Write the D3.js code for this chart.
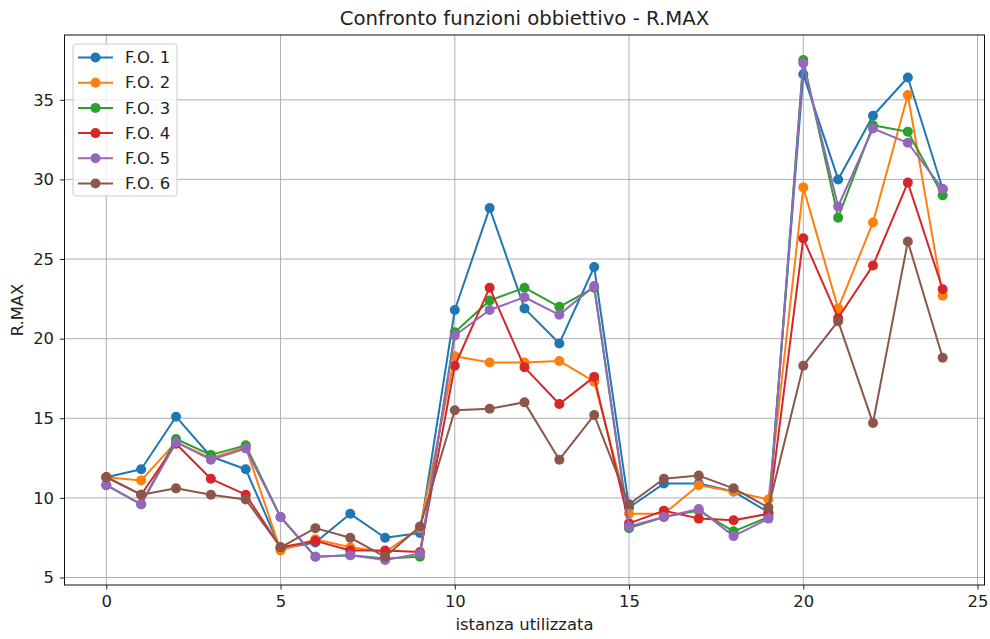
<!DOCTYPE html>
<html>
<head>
<meta charset="utf-8">
<script src="https://cdn.jsdelivr.net/npm/d3@7"></script>
<style>
  body { margin: 0; background: #fff; }
  svg text { font-family: "DejaVu Sans", sans-serif; fill: #222; }
  .grid line { stroke: #b0b0b0; stroke-width: 1; }
</style>
</head>
<body>
<svg id="chart" width="990" height="639"></svg>
<script>
// dati
const istanze = d3.range(0, 25);
const seriesNames = ["F.O. 1", "F.O. 2", "F.O. 3", "F.O. 4", "F.O. 5", "F.O. 6"];
const fo1 = [11.3, 11.8, 15.1, 12.6, 11.8, 6.8, 7.2, 9.0, 7.5, 7.8, 21.8, 28.2, 21.9, 19.7, 24.5, 9.4, 10.9, 10.9, 10.4, 9.1, 36.6, 30.0, 34.0, 36.4, 29.4];
const fo2 = [11.3, 11.1, 13.5, 12.5, 13.2, 6.7, 7.4, 6.9, 6.6, 8.1, 18.9, 18.5, 18.5, 18.6, 17.3, 9.0, 9.0, 10.8, 10.4, 9.9, 29.5, 21.9, 27.3, 35.3, 22.7];
const fo3 = [10.8, 9.6, 13.7, 12.7, 13.3, 8.8, 6.3, 6.4, 6.2, 6.3, 20.4, 22.4, 23.2, 22.0, 23.2, 8.1, 8.8, 9.2, 7.9, 8.8, 37.5, 27.6, 33.4, 33.0, 29.0];
const fo4 = [11.3, 10.2, 13.4, 11.2, 10.2, 6.9, 7.3, 6.7, 6.7, 6.6, 18.3, 23.2, 18.2, 15.9, 17.6, 8.4, 9.2, 8.7, 8.6, 9.0, 26.3, 21.3, 24.6, 29.8, 23.1];
const fo5 = [10.8, 9.6, 13.5, 12.4, 13.1, 8.8, 6.3, 6.4, 6.1, 6.5, 20.2, 21.8, 22.6, 21.5, 23.3, 8.2, 8.8, 9.3, 7.6, 8.7, 37.3, 28.3, 33.2, 32.3, 29.4];
const fo6 = [11.3, 10.2, 10.6, 10.2, 9.9, 6.9, 8.1, 7.5, 6.3, 8.2, 15.5, 15.6, 16.0, 12.4, 15.2, 9.6, 11.2, 11.4, 10.6, 9.4, 18.3, 21.1, 14.7, 26.1, 18.8];
const xTicks = [0, 5, 10, 15, 20, 25];
const yTicks = [5, 10, 15, 20, 25, 30, 35];
const colors = ["#1f77b4", "#ff7f0e", "#2ca02c", "#d62728", "#9467bd", "#8c564b"];

const allSeries = [fo1, fo2, fo3, fo4, fo5, fo6];

const margin = { left: 64.5, right: 5.5, top: 35, bottom: 54 };
const W = 990, H = 639;
const iw = W - margin.left - margin.right;
const ih = H - margin.top - margin.bottom;
const fs = 16.4; // testo etichette

const svg = d3.select("#chart");
const g = svg.append("g").attr("transform", `translate(${margin.left},${margin.top})`);

// scale con margini tipo matplotlib (5%)
const x = d3.scaleLinear().domain([-1.2, 25.2]).range([0, iw]);
const allVals = allSeries.flat();
const yMin = d3.min(allVals), yMax = d3.max(allVals);
const pad = (yMax - yMin) * 0.05;
const y = d3.scaleLinear().domain([yMin - pad, yMax + pad]).range([ih, 0]);

// griglia
g.append("g").attr("class", "grid")
  .selectAll("line").data(xTicks).join("line")
  .attr("x1", d => x(d)).attr("x2", d => x(d))
  .attr("y1", 0).attr("y2", ih);
g.append("g").attr("class", "grid")
  .selectAll("line").data(yTicks).join("line")
  .attr("x1", 0).attr("x2", iw)
  .attr("y1", d => y(d)).attr("y2", d => y(d));

// linee e marker
const line = d3.line().x((d, i) => x(istanze[i])).y(d => y(d));
allSeries.forEach((s, k) => {
  g.append("path").datum(s)
    .attr("d", line)
    .attr("fill", "none")
    .attr("stroke", colors[k])
    .attr("stroke-width", 2)
    .attr("stroke-linejoin", "round");
  g.append("g").selectAll("circle").data(s).join("circle")
    .attr("cx", (d, i) => x(istanze[i]))
    .attr("cy", d => y(d))
    .attr("r", 5)
    .attr("fill", colors[k]);
});

// assi
const xAxis = g.append("g").attr("transform", `translate(0,${ih})`)
  .call(d3.axisBottom(x).tickValues(xTicks).tickSize(4.5).tickPadding(6).tickFormat(d3.format("d")));
const yAxis = g.append("g")
  .call(d3.axisLeft(y).tickValues(yTicks).tickSize(4.5).tickPadding(6).tickFormat(d3.format("d")));
[xAxis, yAxis].forEach(a => {
  a.select(".domain").remove();
  a.selectAll("text").style("font-size", fs + "px").attr("fill", "#222");
  a.selectAll("line").attr("stroke", "#222");
});

// cornice
g.append("rect").attr("width", iw).attr("height", ih)
  .attr("fill", "none").attr("stroke", "#111").attr("stroke-width", 1);

// titoli
svg.append("text").attr("x", margin.left + iw / 2).attr("y", 25)
  .attr("text-anchor", "middle").style("font-size", "19.7px")
  .text("Confronto funzioni obbiettivo - R.MAX");
svg.append("text").attr("x", margin.left + iw / 2).attr("y", 630)
  .attr("text-anchor", "middle").style("font-size", fs + "px")
  .text("istanza utilizzata");
svg.append("text")
  .attr("transform", `translate(23,${margin.top + ih / 2}) rotate(-90)`)
  .attr("text-anchor", "middle").style("font-size", fs + "px")
  .text("R.MAX");

// legenda
const leg = svg.append("g").attr("transform", "translate(73,44)");
leg.append("rect").attr("width", 104).attr("height", 152).attr("rx", 3)
  .attr("fill", "rgba(255,255,255,0.8)").attr("stroke", "#ccc");
seriesNames.forEach((name, k) => {
  const ly = 13.5 + k * 25.2;
  leg.append("line").attr("x1", 5).attr("x2", 40).attr("y1", ly).attr("y2", ly)
    .attr("stroke", colors[k]).attr("stroke-width", 2);
  leg.append("circle").attr("cx", 22.5).attr("cy", ly).attr("r", 5).attr("fill", colors[k]);
  leg.append("text").attr("x", 52).attr("y", ly).attr("dy", "0.35em")
    .style("font-size", fs + "px").text(name);
});
</script>
</body>
</html>
